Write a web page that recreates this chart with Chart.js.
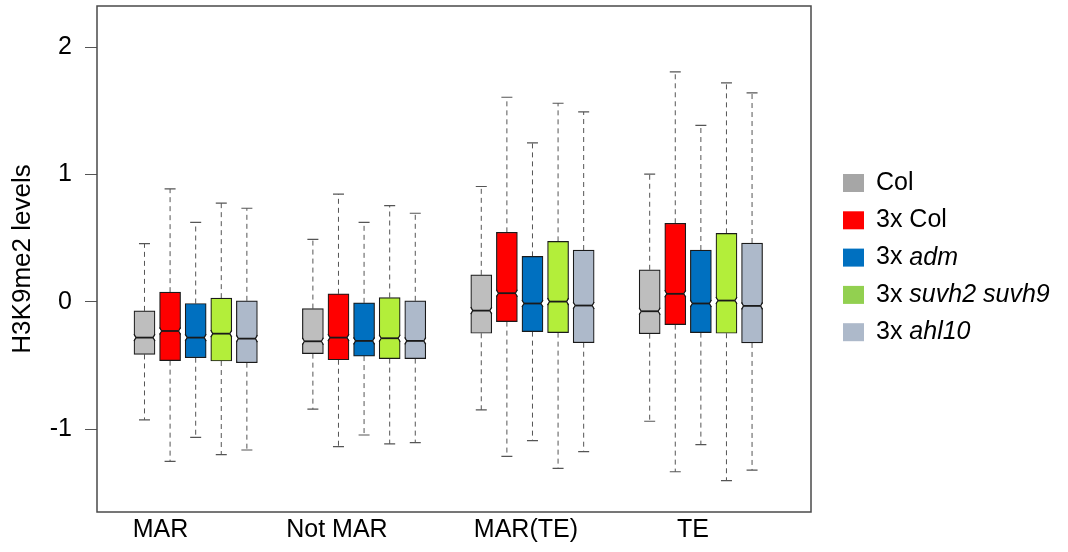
<!DOCTYPE html>
<html><head><meta charset="utf-8">
<script src="https://cdn.jsdelivr.net/npm/chart.js@4.4.1/dist/chart.umd.min.js"></script>
<style>html,body{margin:0;padding:0;background:#fff;}#wrap{width:1068px;height:552px;position:relative;}</style>
</head><body><div id="wrap"><canvas id="c" width="1068" height="552"></canvas></div>
<script>
// ---------- data ----------
const categories = ["MAR", "Not MAR", "MAR(TE)", "TE"];
const seriesPrefix = ["", "3x ", "3x ", "3x ", "3x "];
const seriesName = ["Col", "Col", "adm", "suvh2 suvh9", "ahl10"];
const seriesItalic = [false, false, true, true, true];
const yTicks = [-1, 0, 1, 2];

// whisker low, Q1, median, Q3, whisker high per category
const colLow  = [-0.928, -0.844, -0.850, -0.939];
const colQ1   = [-0.414, -0.408, -0.248, -0.251];
const colMed  = [-0.282, -0.311, -0.070, -0.075];
const colQ3   = [-0.072, -0.054,  0.211,  0.251];
const colHigh = [ 0.456,  0.490,  0.905,  1.002];

const col3Low  = [-1.254, -1.138, -1.215, -1.336];
const col3Q1   = [-0.463, -0.456, -0.156, -0.180];
const col3Med  = [-0.230, -0.282,  0.067,  0.062];
const col3Q3   = [ 0.075,  0.062,  0.545,  0.616];
const col3High = [ 0.886,  0.845,  1.606,  1.806];

const admLow  = [-1.065, -1.047, -1.091, -1.123];
const admQ1   = [-0.440, -0.427, -0.235, -0.243];
const admMed  = [-0.282, -0.308, -0.014, -0.014];
const admQ3   = [-0.014, -0.009,  0.356,  0.406];
const admHigh = [ 0.624,  0.624,  1.247,  1.386];

const suvhLow  = [-1.202, -1.117, -1.310, -1.406];
const suvhQ1   = [-0.466, -0.447, -0.243, -0.248];
const suvhMed  = [-0.251, -0.287,  0.001,  0.009];
const suvhQ3   = [ 0.028,  0.033,  0.474,  0.537];
const suvhHigh = [ 0.774,  0.755,  1.559,  1.719];

const ahlLow  = [-1.165, -1.107, -1.178, -1.323];
const ahlQ1   = [-0.479, -0.447, -0.322, -0.324];
const ahlMed  = [-0.290, -0.308, -0.030, -0.033];
const ahlQ3   = [ 0.007,  0.007,  0.406,  0.461];
const ahlHigh = [ 0.734,  0.695,  1.491,  1.640];

// ---------- styles / layout ----------
const boxColors = ["#bebebe", "#ff0000", "#0070c0", "#b3ee3a", "#adb9ca"];
const legendColors = ["#a6a6a6", "#ff0000", "#0070c0", "#92d050", "#adb9ca"];
const xLabelAt = [-0.209, 0.839, 1.961, 2.953];
const boxStep = 0.152;
const FONT = "'Liberation Sans', Arial, sans-serif";

const stats = [
  [colLow, colQ1, colMed, colQ3, colHigh],
  [col3Low, col3Q1, col3Med, col3Q3, col3High],
  [admLow, admQ1, admMed, admQ3, admHigh],
  [suvhLow, suvhQ1, suvhMed, suvhQ3, suvhHigh],
  [ahlLow, ahlQ1, ahlMed, ahlQ3, ahlHigh]
];

const datasets = stats.map((s, j) => ({
  label: seriesPrefix[j] + seriesName[j],
  data: categories.map((c, i) => ({ x: i + (j - 2) * boxStep, y: [s[1][i], s[3][i]] })),
  backgroundColor: boxColors[j],
  borderColor: "#1a1a1a",
  borderWidth: 1.2,
  borderSkipped: false,
  barThickness: 21,
  grouped: false
}));

const boxExtras = {
  id: "boxExtras",
  beforeDatasetsDraw(chart) {
    const ctx = chart.ctx, y = chart.scales.y;
    ctx.save();
    ctx.strokeStyle = "#555";
    stats.forEach((s, j) => {
      chart.getDatasetMeta(j).data.forEach((el, i) => {
        const x = el.x;
        const pLow = y.getPixelForValue(s[0][i]), pQ1 = y.getPixelForValue(s[1][i]);
        const pQ3 = y.getPixelForValue(s[3][i]), pHigh = y.getPixelForValue(s[4][i]);
        ctx.lineWidth = 1;
        ctx.setLineDash([5, 4]);
        ctx.beginPath();
        ctx.moveTo(x, pQ3); ctx.lineTo(x, pHigh);
        ctx.moveTo(x, pQ1); ctx.lineTo(x, pLow);
        ctx.stroke();
        ctx.setLineDash([]);
        ctx.lineWidth = 1.2;
        ctx.beginPath();
        ctx.moveTo(x - 5.5, pHigh); ctx.lineTo(x + 5.5, pHigh);
        ctx.moveTo(x - 5.5, pLow); ctx.lineTo(x + 5.5, pLow);
        ctx.stroke();
      });
    });
    ctx.restore();
  },
  afterDatasetsDraw(chart) {
    const ctx = chart.ctx, y = chart.scales.y;
    ctx.save();
    stats.forEach((s, j) => {
      chart.getDatasetMeta(j).data.forEach((el, i) => {
        const half = el.width / 2, L = el.x - half, R = el.x + half;
        const m = y.getPixelForValue(s[2][i]);
        const h = 3.5, d = 2;
        ctx.fillStyle = "#fff";
        ctx.beginPath();
        ctx.moveTo(L - 1, m - h); ctx.lineTo(L + d, m); ctx.lineTo(L - 1, m + h); ctx.closePath();
        ctx.moveTo(R + 1, m - h); ctx.lineTo(R - d, m); ctx.lineTo(R + 1, m + h); ctx.closePath();
        ctx.fill();
        ctx.strokeStyle = "#1a1a1a";
        ctx.lineWidth = 1.2;
        ctx.beginPath();
        ctx.moveTo(L, m - h); ctx.lineTo(L + d, m); ctx.lineTo(L, m + h);
        ctx.moveTo(R, m - h); ctx.lineTo(R - d, m); ctx.lineTo(R, m + h);
        ctx.stroke();
        ctx.lineWidth = 1.8;
        ctx.beginPath();
        ctx.moveTo(L + d, m); ctx.lineTo(R - d, m);
        ctx.stroke();
      });
    });
    ctx.restore();
  },
  afterDraw(chart) {
    const ctx = chart.ctx, a = chart.chartArea;
    ctx.save();
    ctx.strokeStyle = "#4a4a4a";
    ctx.lineWidth = 1.5;
    ctx.strokeRect(a.left, a.top, a.right - a.left, a.bottom - a.top);
    // legend
    ctx.textBaseline = "middle";
    ctx.textAlign = "left";
    seriesName.forEach((name, k) => {
      const yc = 183 + k * 37.3;
      ctx.fillStyle = legendColors[k];
      ctx.fillRect(843, yc - 9, 21, 18);
      ctx.fillStyle = "#000";
      ctx.font = "25px " + FONT;
      let x = 876;
      if (seriesPrefix[k]) { ctx.fillText(seriesPrefix[k], x, yc); x += ctx.measureText(seriesPrefix[k]).width; }
      ctx.font = (seriesItalic[k] ? "italic " : "") + "25px " + FONT;
      ctx.fillText(name, x, yc);
    });
    ctx.restore();
  }
};

new Chart(document.getElementById("c"), {
  type: "bar",
  data: { datasets },
  plugins: [boxExtras],
  options: {
    responsive: false,
    animation: false,
    layout: { padding: { top: 6, right: 257, left: 0, bottom: 0 } },
    plugins: { legend: { display: false }, tooltip: { enabled: false } },
    scales: {
      x: {
        type: "linear", min: -0.586, max: 3.654, offset: false, grace: 0,
        grid: { display: false, drawTicks: false, offset: false },
        border: { display: false },
        afterBuildTicks: s => { s.ticks = xLabelAt.map(v => ({ value: v })); },
        ticks: {
          autoSkip: false, maxRotation: 0, padding: 3, color: "#000",
          font: { family: FONT, size: 25 },
          callback: (v, idx) => categories[idx]
        },
        afterFit: s => { s.height = 40; s.paddingLeft = 0; s.paddingRight = 0; }
      },
      y: {
        min: -1.652, max: 2.323, grace: 0,
        afterBuildTicks: s => { s.ticks = yTicks.map(v => ({ value: v })); },
        grid: { display: true, drawOnChartArea: false, drawTicks: true, tickLength: 12, color: "#555" },
        border: { display: false },
        ticks: { padding: 13, color: "#000", font: { family: FONT, size: 25 }, callback: v => String(v) },
        title: { display: true, text: "H3K9me2 levels", color: "#000", font: { family: FONT, size: 26 }, padding: { top: 7, bottom: 0 } },
        afterFit: s => { s.width = 97; s.paddingTop = 0; s.paddingBottom = 0; }
      }
    }
  }
});
</script></body></html>
